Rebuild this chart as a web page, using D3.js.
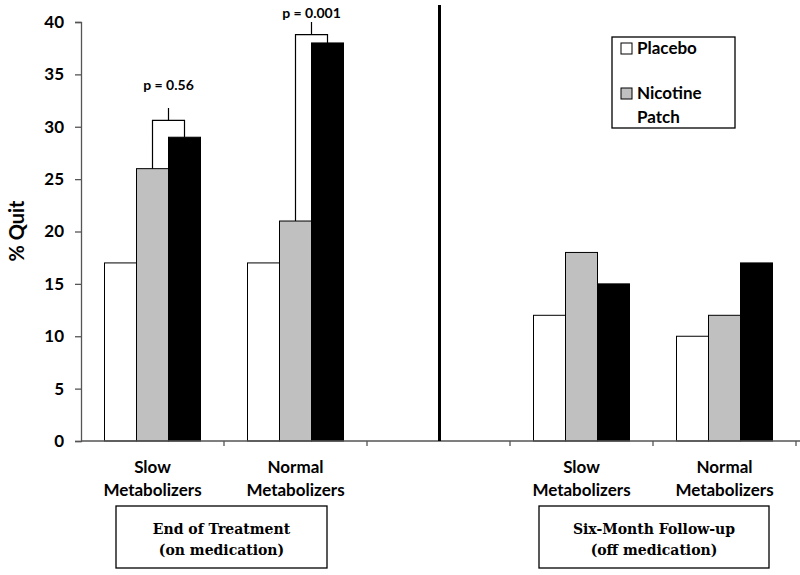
<!DOCTYPE html>
<html><head><meta charset="utf-8">
<script src="https://cdn.jsdelivr.net/npm/d3@7"></script>
<style>body{margin:0;background:#fff}svg{display:block}</style>
</head><body>
<script>
const categories = ["Slow|Metabolizers","Normal|Metabolizers","","Slow|Metabolizers ","Normal|Metabolizers "];
const seriesNames = ["Placebo","Nicotine Patch","Third"];
const placebo = [17,17,null,12,10];
const patch = [26,21,null,18,12];
const third = [29,38,null,15,17];
const yTicks = [0,5,10,15,20,25,30,35,40];
const brackets = [
  {cat:0, from:1, to:2, level:30.6, top:31.8, labelAt:33.5, label:"p = 0.56"},
  {cat:1, from:1, to:2, level:38.8, top:40.0, labelAt:40.4, label:"p = 0.001"}
];
const phases = [
  {cats:[0,1], lines:["End of Treatment","(on medication)"]},
  {cats:[3,4], lines:["Six-Month Follow-up","(off medication)"]}
];
const legendItems = [{name:"Placebo", lines:["Placebo"], s:0},{name:"Nicotine Patch", lines:["Nicotine","Patch"], s:1}];
const fills = ["#ffffff","#c0c0c0","#000000"];

const W=800,H=575;
const svg = d3.select("body").append("svg").attr("width",W).attr("height",H);
const font = "Lato, 'Open Sans', sans-serif";
const x = d3.scaleBand().domain(categories).range([81,796]).paddingInner(0).paddingOuter(0);
const y = d3.scaleLinear().domain([0,40]).range([441,22]);
const xs = d3.scaleBand().domain([0,1,2]).range([0,96]);
const offset = (x.bandwidth()-96)/2;
const series = [placebo,patch,third];

// bars
series.forEach((vals,s)=>{
  svg.append("g").selectAll("rect").data(vals.map((v,i)=>({v,i})).filter(d=>d.v!=null)).join("rect")
    .attr("x",d=>x(categories[d.i])+offset+xs(s))
    .attr("y",d=>y(d.v)).attr("width",xs.bandwidth()).attr("height",d=>y(0)-y(d.v))
    .attr("fill",fills[s]).attr("stroke","#000").attr("stroke-width",1);
});

// brackets
brackets.forEach(b=>{
  const c = categories[b.cat];
  const x1 = x(c)+offset+xs(b.from)+xs.bandwidth()/2;
  const x2 = x(c)+offset+xs(b.to)+xs.bandwidth()/2;
  const v1 = series[b.from][b.cat], v2 = series[b.to][b.cat];
  const path = `M${x1},${y(v1)}V${y(b.level)}H${x2}V${y(v2)}M${(x1+x2)/2},${y(b.level)}V${y(b.top)}`;
  svg.append("path").attr("d",path).attr("fill","none").attr("stroke","#000").attr("stroke-width",1.2);
  svg.append("text").attr("x",(x1+x2)/2).attr("y",y(b.labelAt)).attr("text-anchor","middle")
    .attr("font-family",font).attr("font-weight","bold").attr("font-size",14).text(b.label);
});

// y axis
const ya = svg.append("g").attr("transform","translate(81,0)").call(d3.axisLeft(y).tickValues(yTicks).tickSize(6).tickPadding(11));
ya.select(".domain").attr("stroke","#555").attr("stroke-width",1.3);
ya.selectAll(".tick line").attr("stroke","#555").attr("stroke-width",1.3);
ya.selectAll("text").attr("font-family",font).attr("font-weight","bold").attr("font-size",17).attr("fill","#000");

// x axis
svg.append("line").attr("x1",81).attr("x2",800).attr("y1",y(0)).attr("y2",y(0)).attr("stroke","#555").attr("stroke-width",1.3);
const bounds = categories.map(c=>x(c)).concat([x(categories[4])+x.bandwidth()]);
svg.append("g").selectAll("line").data(bounds.slice(1)).join("line")
  .attr("x1",d=>d).attr("x2",d=>d).attr("y1",y(0)).attr("y2",y(0)+5).attr("stroke","#555").attr("stroke-width",1.3);

// category labels
categories.forEach(c=>{
  if(!c.trim()) return;
  const parts = c.trim().split("|");
  const t = svg.append("text").attr("text-anchor","middle").attr("font-family",font).attr("font-weight","bold").attr("font-size",17);
  parts.forEach((p,i)=>t.append("tspan").attr("x",x(c)+x.bandwidth()/2).attr("y",473+i*23).text(p));
});

// divider
const midc = categories[2];
svg.append("line").attr("x1",x(midc)+x.bandwidth()/2+1).attr("x2",x(midc)+x.bandwidth()/2+1)
  .attr("y1",5).attr("y2",y(0)).attr("stroke","#000").attr("stroke-width",3);

// phase boxes
const boxDims = [{x0:116,x1:327},{x0:539,x1:769}];
phases.forEach((p,i)=>{
  const bx = boxDims[i];
  svg.append("rect").attr("x",bx.x0).attr("y",506).attr("width",bx.x1-bx.x0).attr("height",62)
    .attr("fill","#fff").attr("stroke","#000").attr("stroke-width",1.3);
  p.lines.forEach((l,j)=>svg.append("text").attr("x",(bx.x0+bx.x1)/2).attr("y",534+j*21).attr("text-anchor","middle")
    .attr("font-family","'DejaVu Serif', serif").attr("font-weight","bold").attr("font-size",14).text(l));
});

// legend
svg.append("rect").attr("x",612).attr("y",37).attr("width",123).attr("height",91).attr("fill","#fff").attr("stroke","#000").attr("stroke-width",1.3);
const legY = [43,88];
legendItems.forEach((it,i)=>{
  svg.append("rect").attr("x",621).attr("y",legY[i]).attr("width",11).attr("height",11).attr("fill",fills[it.s]).attr("stroke","#000");
  it.lines.forEach((l,j)=>svg.append("text").attr("x",637).attr("y",legY[i]+11+j*24).attr("font-family",font)
    .attr("font-weight","bold").attr("font-size",17).text(l));
});

// y label
svg.append("text").attr("transform","translate(24,231) rotate(-90)").attr("text-anchor","middle")
  .attr("font-family",font).attr("font-weight","bold").attr("font-size",20).text("% Quit");
</script>
</body></html>
